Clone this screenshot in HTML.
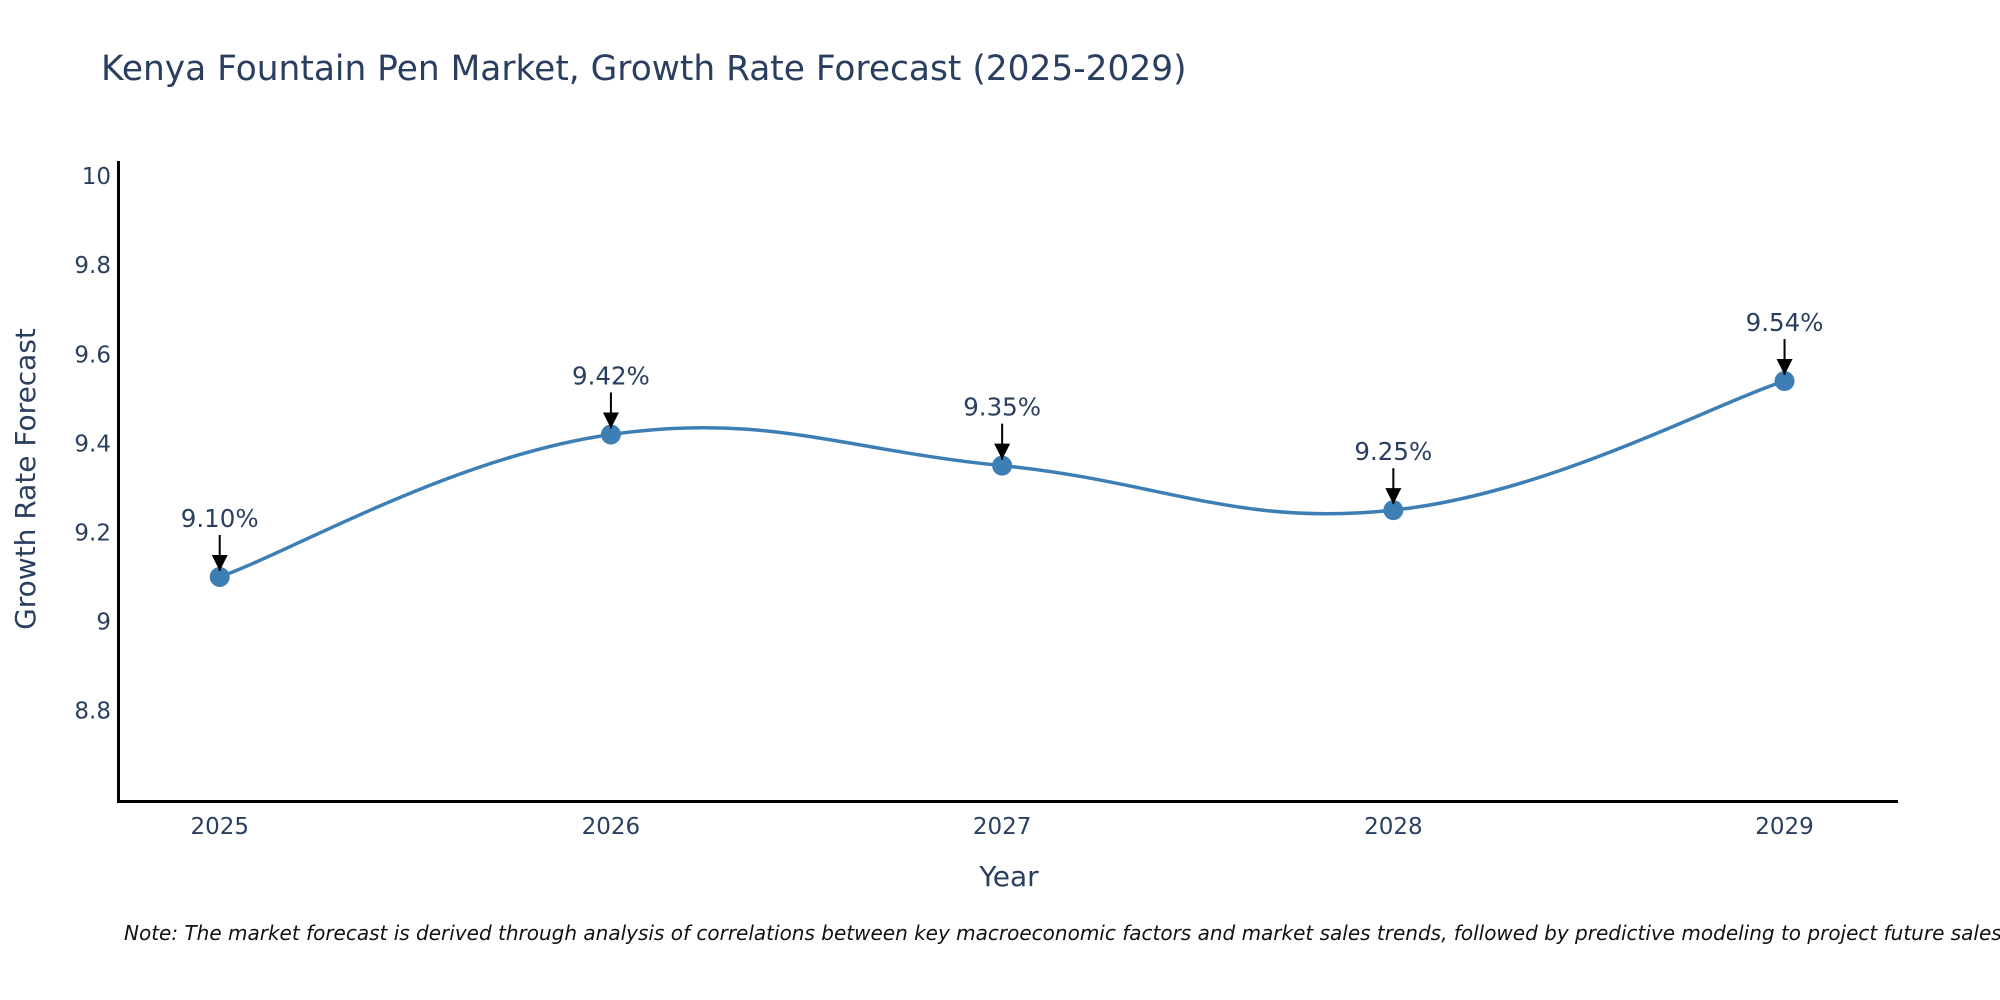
<!DOCTYPE html>
<html><head><meta charset="utf-8">
<style>
html,body{margin:0;padding:0;background:#fff;}
svg{display:block;font-family:"DejaVu Sans","Liberation Sans",sans-serif;}
</style></head>
<body>
<svg id="chart" width="2000" height="1000" viewBox="0 0 2000 1000" xmlns="http://www.w3.org/2000/svg">
<defs>
<marker id="ah" viewBox="0 0 10 10" refX="10" refY="5" markerWidth="16" markerHeight="16" markerUnits="userSpaceOnUse" orient="auto"><path d="M0,0 L10,5 L0,10 Z" fill="#000"/></marker>
</defs>
<rect width="2000" height="1000" fill="#fff"/>
<text x="101" y="80" font-size="34.4" fill="#2a3f5f">Kenya Fountain Pen Market, Growth Rate Forecast (2025-2029)</text>
<g id="yticks"></g>
<g id="xticks"></g>
<line x1="118.5" y1="161" x2="118.5" y2="802" stroke="#000" stroke-width="3"/>
<line x1="117" y1="801.5" x2="1898" y2="801.5" stroke="#000" stroke-width="3"/>
<text transform="translate(35,479) rotate(-90)" text-anchor="middle" font-size="28" fill="#2a3f5f">Growth Rate Forecast</text>
<text x="1009" y="886" text-anchor="middle" font-size="28" fill="#2a3f5f">Year</text>
<g id="series"></g>
<g id="annots"></g>
<text x="124" y="940" font-size="20" font-style="italic" fill="#111">Note: The market forecast is derived through analysis of correlations between key macroeconomic factors and market sales trends, followed by predictive modeling to project future sales.</text>
</svg>
<script>
const years = [2025, 2026, 2027, 2028, 2029];
const growthValues = [9.10, 9.42, 9.35, 9.25, 9.54];
const valueLabels = ["9.10%", "9.42%", "9.35%", "9.25%", "9.54%"];
const yTickValues = [8.8, 9, 9.2, 9.4, 9.6, 9.8, 10];
const yTickLabels = ["8.8", "9", "9.2", "9.4", "9.6", "9.8", "10"];

const NS = "http://www.w3.org/2000/svg";
const xMin = 2024.74, xMax = 2029.29, pxL = 118, pxR = 1898;
const yMin = 8.597, yMax = 10.034, pyB = 801, pyT = 161;
function xs(v){ return pxL + (v - xMin) / (xMax - xMin) * (pxR - pxL); }
function ys(v){ return pyB - (v - yMin) / (yMax - yMin) * (pyB - pyT); }
function mk(tag, attrs){ const e = document.createElementNS(NS, tag); for (const k in attrs) e.setAttribute(k, attrs[k]); return e; }

const yt = document.getElementById('yticks');
yTickValues.forEach((v, i) => {
  const t = mk('text', {x: 111, y: ys(v) + 8, 'text-anchor': 'end', 'font-size': 23, fill: '#2a3f5f'});
  
  
  t.textContent = yTickLabels[i];
  yt.appendChild(t);
});
const xt = document.getElementById('xticks');
years.forEach(v => {
  const t = mk('text', {x: xs(v), y: 834, 'text-anchor': 'middle', 'font-size': 23, fill: '#2a3f5f'});
  
  
  t.textContent = String(v);
  xt.appendChild(t);
});

const pts = years.map((y, i) => [xs(y), ys(growthValues[i])]);
let d = `M${pts[0][0]},${pts[0][1]}`;
const tension = 0.2;
for (let i = 0; i < pts.length - 1; i++) {
  const p0 = pts[Math.max(0, i - 1)], p1 = pts[i], p2 = pts[i + 1], p3 = pts[Math.min(pts.length - 1, i + 2)];
  const c1 = [p1[0] + (p2[0] - p0[0]) * tension, p1[1] + (p2[1] - p0[1]) * tension];
  const c2 = [p2[0] - (p3[0] - p1[0]) * tension, p2[1] - (p3[1] - p1[1]) * tension];
  d += ` C${c1[0]},${c1[1]} ${c2[0]},${c2[1]} ${p2[0]},${p2[1]}`;
}
const sg = document.getElementById('series');
const line = mk('path', {d: d, fill: 'none', stroke: '#3d7fb5', 'stroke-width': 3.5});


sg.appendChild(line);
pts.forEach(p => {
  const c = mk('circle', {cx: p[0], cy: p[1], r: 10, fill: '#3d7fb5'});
  
  
  sg.appendChild(c);
});

const ag = document.getElementById('annots');
pts.forEach((p, i) => {
  const a = mk('line', {x1: p[0], y1: p[1] - 42, x2: p[0], y2: p[1] - 6, stroke: '#000', 'stroke-width': 2, 'marker-end': 'url(#ah)'});
  
  
  ag.appendChild(a);
  const t = mk('text', {x: p[0], y: p[1] - 50, 'text-anchor': 'middle', 'font-size': 24.5, fill: '#2a3f5f'});
  
  
  t.textContent = valueLabels[i];
  ag.appendChild(t);
});
</script>
</body></html>
